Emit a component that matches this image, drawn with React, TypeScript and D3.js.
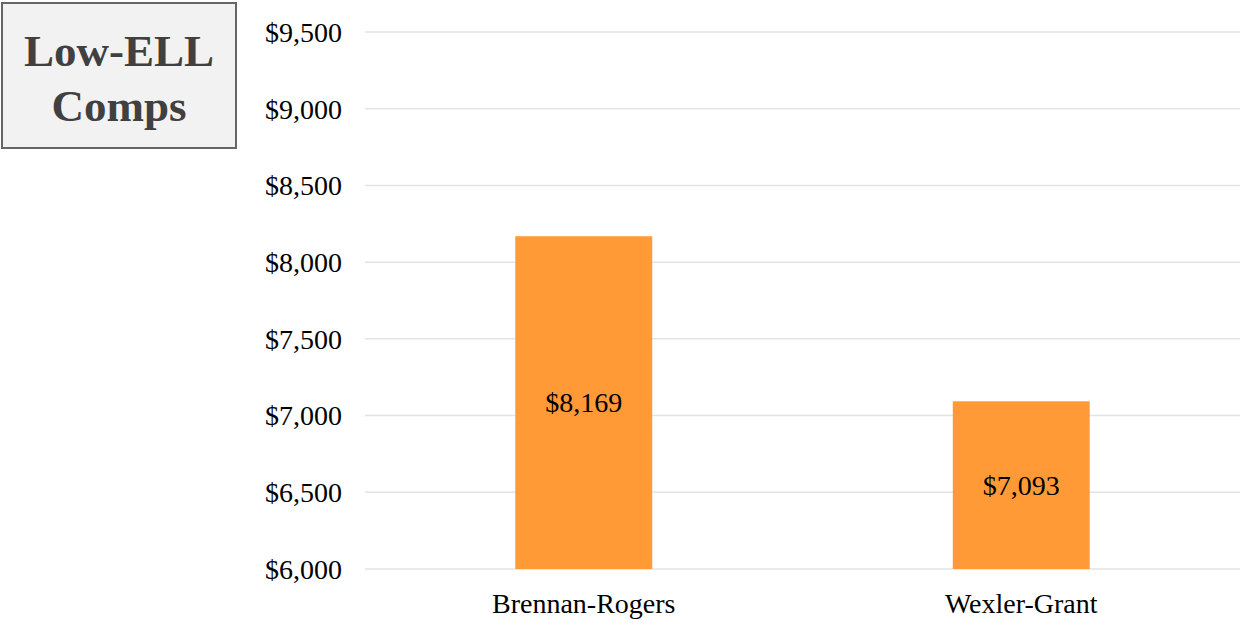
import React from 'react';
import * as d3 from 'd3';

const categories = ['Brennan-Rogers', 'Wexler-Grant'];
const values = [8169, 7093];
const yTicks = [6000, 6500, 7000, 7500, 8000, 8500, 9000, 9500];
const titleLines = ['Low-ELL', 'Comps'];

const W = 1243;
const H = 619;
const FONT = '"Liberation Serif", "Times New Roman", serif';

export default function App() {
  const x = d3.scaleBand<string>()
    .domain(categories)
    .range([365, 1240])
    .paddingInner(0.687)
    .paddingOuter(0.3435);

  const y = d3.scaleLinear().domain([6000, 9500]).range([569, 32]);
  const fmt = (v: number) => '$' + d3.format(',')(v);

  return (
    <svg width={W} height={H} style={{ position: 'absolute', left: 0, top: 0 }} fontFamily={FONT}>
      <rect x={0} y={0} width={W} height={H} fill="#fff" />

      {/* gridlines */}
      {yTicks.map(t => (
        <line key={t} x1={365} x2={1240} y1={y(t)} y2={y(t)} stroke="#e3e3e3" strokeWidth={1.5} />
      ))}

      {/* y tick labels */}
      {yTicks.map(t => (
        <text key={'l' + t} x={342} y={y(t)} dy="0.35em" textAnchor="end" fontSize={28} fill="#000">
          {fmt(t)}
        </text>
      ))}

      {/* bars */}
      {categories.map((c, i) => (
        <g key={c}>
          <rect
            x={x(c)!}
            y={y(values[i])}
            width={x.bandwidth()}
            height={y(6000) - y(values[i])}
            fill="#ff9a36"
          />
          <text
            x={x(c)! + x.bandwidth() / 2}
            y={(y(values[i]) + y(6000)) / 2}
            dy="0.35em"
            textAnchor="middle"
            fontSize={28}
            fill="#000"
          >
            {fmt(values[i])}
          </text>
          <text x={x(c)! + x.bandwidth() / 2} y={613} textAnchor="middle" fontSize={28} fill="#000">
            {c}
          </text>
        </g>
      ))}

      {/* title box */}
      <rect x={2} y={3} width={234} height={145} fill="#f2f2f2" stroke="#666" strokeWidth={2} />
      {titleLines.map((t, i) => (
        <text
          key={t}
          x={119}
          y={66 + i * 55}
          textAnchor="middle"
          fontSize={45}
          fontWeight="bold"
          fill="#404040"
        >
          {t}
        </text>
      ))}
    </svg>
  );
}
